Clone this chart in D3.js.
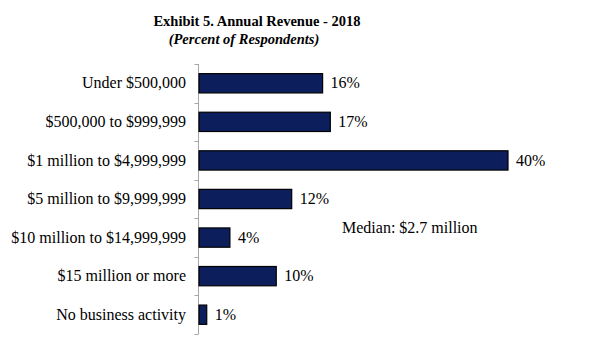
<!DOCTYPE html>
<html>
<head>
<meta charset="utf-8">
<script src="https://cdn.jsdelivr.net/npm/d3@7"></script>
<style>
  body { margin: 0; background: #fff; }
  text { font-family: "Liberation Serif", "Times New Roman", serif; fill: #000; }
</style>
</head>
<body>
<script>
// revenue brackets and share of respondents (%)
var categories = ["Under $500,000", "$500,000 to $999,999", "$1 million to $4,999,999",
  "$5 million to $9,999,999", "$10 million to $14,999,999", "$15 million or more",
  "No business activity"];
var values = [16, 17, 40, 12, 4, 10, 1];
var title = "Exhibit 5. Annual Revenue - 2018";
var subtitle = "(Percent of Respondents)";
var note = "Median: $2.7 million";

var width = 591,
    height = 343;

var svg = d3.select("body").append("svg")
    .attr("width", width)
    .attr("height", height);

var x = d3.scaleLinear()
    .domain([0, 40])
    .range([199, 508]);

var y = d3.scaleBand()
    .domain(categories)
    .range([64, 334])
    .paddingInner(0.5)
    .paddingOuter(0.25);

// titles
svg.append("text")
    .attr("x", 257)
    .attr("y", 26)
    .attr("text-anchor", "middle")
    .style("font-weight", "bold")
    .style("font-size", "14.5px")
    .text(title);

svg.append("text")
    .attr("x", 244)
    .attr("y", 44)
    .attr("text-anchor", "middle")
    .style("font-weight", "bold")
    .style("font-style", "italic")
    .style("font-size", "14.5px")
    .text(subtitle);

// vertical axis with ticks between the bars
var axis = svg.append("g").attr("stroke", "#a6a6a6").attr("stroke-width", 1);
axis.append("line")
    .attr("x1", x(0) - 0.5).attr("x2", x(0) - 0.5)
    .attr("y1", y.range()[0]).attr("y2", y.range()[1]);
axis.selectAll(".tick")
    .data(d3.range(categories.length + 1))
    .enter()
    .append("line")
    .attr("x1", x(0) - 4.5).attr("x2", x(0) - 0.5)
    .attr("y1", function(i){ return Math.round(y.range()[0] + i * y.step()) + 0.5; })
    .attr("y2", function(i){ return Math.round(y.range()[0] + i * y.step()) + 0.5; });

// bars
svg.selectAll("rect.bar")
    .data(values)
    .enter()
    .append("rect")
    .attr("class", "bar")
    .attr("x", x(0))
    .attr("y", function(d, i){ return y(categories[i]); })
    .attr("width", function(d){ return x(d) - x(0); })
    .attr("height", y.bandwidth())
    .attr("fill", "#0c1f5c")
    .attr("stroke", "#000")
    .attr("stroke-width", 1.2);

// category labels
svg.selectAll("text.cat")
    .data(categories)
    .enter()
    .append("text")
    .attr("class", "cat")
    .attr("x", 186)
    .attr("y", function(d){ return y(d) + y.bandwidth() / 2; })
    .attr("dy", "0.32em")
    .attr("text-anchor", "end")
    .style("font-size", "16px")
    .text(function(d){ return d; });

// value labels
svg.selectAll("text.val")
    .data(values)
    .enter()
    .append("text")
    .attr("class", "val")
    .attr("x", function(d){ return x(d) + 8; })
    .attr("y", function(d, i){ return y(categories[i]) + y.bandwidth() / 2; })
    .attr("dy", "0.32em")
    .style("font-size", "16px")
    .text(function(d){ return d + "%"; });

svg.append("text")
    .attr("x", 342)
    .attr("y", 233)
    .style("font-size", "16px")
    .text(note);
</script>
</body>
</html>
